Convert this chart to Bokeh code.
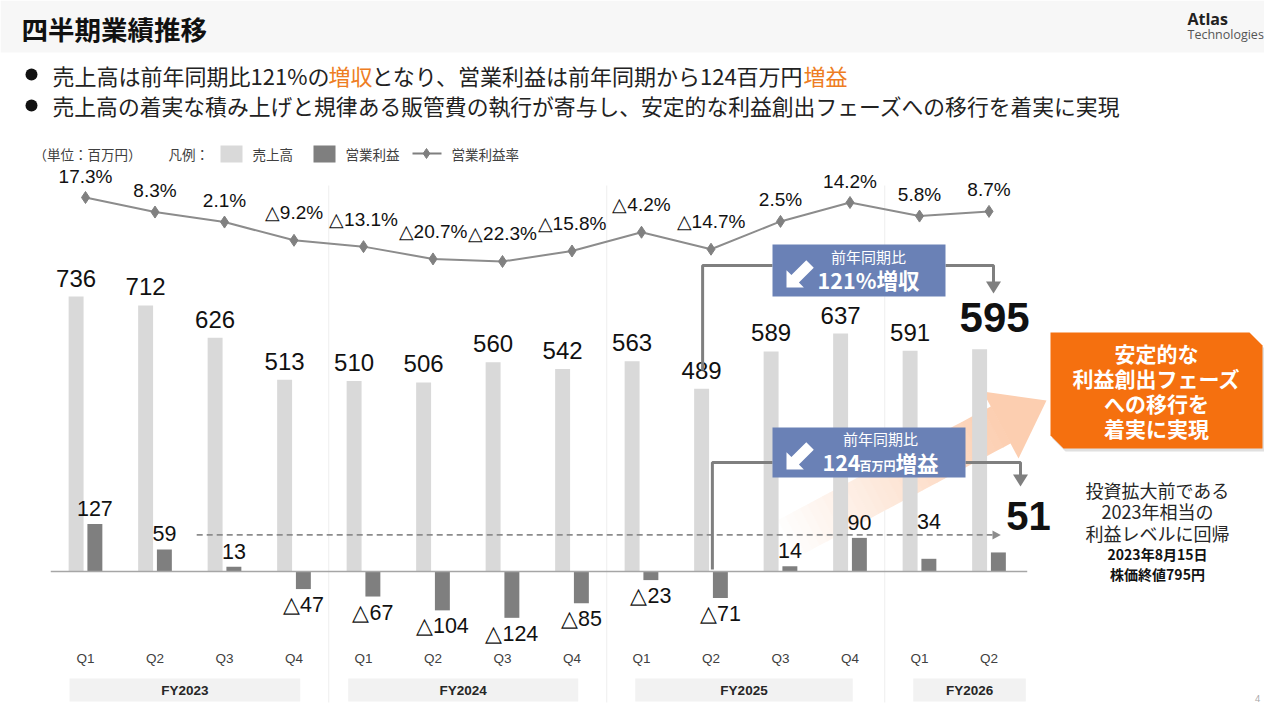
import numpy as np
from bokeh.plotting import figure
from bokeh.models import Range1d
from bokeh.core.properties import value
from bokeh.embed import file_html
from bokeh.resources import INLINE

# ---------------- data ----------------
quarters = ["Q1", "Q2", "Q3", "Q4", "Q1", "Q2", "Q3", "Q4", "Q1", "Q2", "Q3", "Q4", "Q1", "Q2"]
fiscal_years = ["FY2023", "FY2024", "FY2025", "FY2026"]
fy_quarter_counts = [4, 4, 4, 2]
sales = [736, 712, 626, 513, 510, 506, 560, 542, 563, 489, 589, 637, 591, 595]
op_income = [127, 59, 13, -47, -67, -104, -124, -85, -23, -71, 14, 90, 34, 51]
op_margin = [17.3, 8.3, 2.1, -9.2, -13.1, -20.7, -22.3, -15.8, -4.2, -14.7, 2.5, 14.2, 5.8, 8.7]
level_2023 = 98

title_text = "四半期業績推移"
bullet1_runs = [("売上高は前年同期比121%の", False), ("増収", True),
                ("となり、営業利益は前年同期から124百万円", False), ("増益", True)]
bullet2_text = "売上高の着実な積み上げと規律ある販管費の執行が寄与し、安定的な利益創出フェーズへの移行を着実に実現"
legend_unit = "（単位：百万円）"
legend_title = "凡例："
legend_names = ["売上高", "営業利益", "営業利益率"]
callout_sales = ("前年同期比", "121%増収")
callout_op = ("前年同期比", "124", "百万円", "増益")
orange_lines = ["安定的な", "利益創出フェーズ", "への移行を", "着実に実現"]
note_lines = ["投資拡大前である", "2023年相当の", "利益レベルに回帰"]
note_bold_lines = ["2023年8月15日", "株価終値795円"]

# ---------------- layout ----------------
W, H = 1264, 704
Q0_PX, Q_STEP = 85.0, 69.5
V0_PX, V_PER = 571.0, 0.3736
P_A, P_B = 224.96, 1.616
BAR_W = 0.215
OFF = 0.135

JP = value("Noto Sans CJK JP")
NUM = value("Liberation Sans")

LIGHT = "#d9d9d9"
DARK = "#7f7f7f"
ORANGE_TXT = "#ee7d22"
BLUE = "#6a81b6"
ORANGE_BOX = "#f5700f"

p = figure(width=W, height=H, x_range=Range1d(0, W), y_range=Range1d(H, 0),
           output_backend="svg", toolbar_location=None,
           x_axis_type=None, y_axis_type=None, min_border=0)
p.outline_line_color = None
p.background_fill_color = "white"
p.border_fill_color = "white"
for g in p.grid:
    g.visible = False

p.extra_x_ranges = {"q": Range1d((0 - Q0_PX) / Q_STEP, (W - Q0_PX) / Q_STEP)}
p.extra_y_ranges = {"v": Range1d((V0_PX - H) / V_PER, V0_PX / V_PER),
                    "pct": Range1d((P_A - H) / P_B, P_A / P_B)}

def vpx(px):
    return px / V_PER

def ppx(px):
    return px / P_B

def txt(x, y, s, size, color="#222222", bold=False, align="left", baseline="middle",
        font=JP, xr="default", yr="default"):
    p.text(x=[x], y=[y], text=[s], text_font=font, text_font_size=f"{size}px",
           text_font_style="bold" if bold else "normal", text_color=color,
           text_align=align, text_baseline=baseline, x_range_name=xr, y_range_name=yr)

n = len(sales)
idx = np.arange(n)

# ---------------- header ----------------
p.quad(left=0, right=W, top=0, bottom=52, fill_color="#f7f7f7", line_color=None)
txt(21, 28, title_text, 26.5, color="#111111", bold=True)
txt(1187, 18, "Atlas", 16, color="#222222", bold=True, font=value("Open Sans"))
txt(1187, 34, "Technologies", 12.5, color="#555555", font=value("Open Sans"))
txt(1257, 698, "4", 9, color="#a6a6a6", align="center", font=value("Open Sans"))

# bullets
bx = [52, 328, 371, 803]
for (s, hi), x in zip(bullet1_runs, bx):
    txt(x, 74, s, 22, color=ORANGE_TXT if hi else "#222222")
txt(52, 105, bullet2_text, 21.8, color="#222222")
p.scatter(x=[31, 31], y=[74, 105], marker="circle", size=12, fill_color="#111111", line_color=None)

# legend
txt(33, 153, legend_unit, 13.5, color="#404040")
txt(168, 153, legend_title, 13.5, color="#404040")
p.quad(left=220, right=242, top=145, bottom=162, fill_color=LIGHT, line_color=None)
txt(252, 153, legend_names[0], 13.5, color="#404040")
p.quad(left=313, right=335, top=145, bottom=162, fill_color=DARK, line_color=None)
txt(345, 153, legend_names[1], 13.5, color="#404040")
p.line(x=[412, 441], y=[153, 153], line_color=DARK, line_width=2)
p.scatter(x=[426], y=[153], marker="diamond", size=10, fill_color=DARK, line_color=DARK)
txt(451, 153, legend_names[2], 13.5, color="#404040")

# ---------------- chart ----------------
# fiscal-year separators
sep = np.cumsum(fy_quarter_counts)[:-1] - 0.5
p.multi_line(xs=[[s, s] for s in sep], ys=[[185, 702] for _ in sep], line_color="#eeeeee",
             line_width=1, x_range_name="q")

# gradient arrow (behind bars)
S = np.array([780.0, 542.0]); T = np.array([1046.0, 400.0])
D = T - S; L = np.hypot(*D); u = D / L; nrm = np.array([-u[1], u[0]])
hw, hh, hl = 21.0, 38.0, 52.0
shaft_len = L - hl
N = 30
c0 = np.array([255, 255, 255]); c1 = np.array([252, 206, 176])
xs, ys, cols = [], [], []
for i in range(N):
    t0, t1 = i / N, (i + 1) / N
    a0 = S + u * shaft_len * t0; a1 = S + u * shaft_len * (t1 + 0.002)
    pts = [a0 + nrm * hw, a1 + nrm * hw, a1 - nrm * hw, a0 - nrm * hw]
    xs.append([q[0] for q in pts]); ys.append([q[1] for q in pts])
    c = c0 + (c1 - c0) * t0
    cols.append("#%02x%02x%02x" % tuple(int(v) for v in c))
hb = S + u * shaft_len
xs.append([hb[0] + nrm[0] * hh, T[0], hb[0] - nrm[0] * hh])
ys.append([hb[1] + nrm[1] * hh, T[1], hb[1] - nrm[1] * hh])
cols.append("#%02x%02x%02x" % tuple(int(v) for v in c1))
p.patches(xs=xs, ys=ys, fill_color=cols, line_color=None)

# bars
p.vbar(x=idx - OFF, top=sales, bottom=0, width=BAR_W, fill_color=LIGHT, line_color=None,
       x_range_name="q", y_range_name="v")
p.vbar(x=idx + OFF, top=op_income, bottom=0, width=BAR_W, fill_color=DARK, line_color=None,
       x_range_name="q", y_range_name="v")

# baseline
p.line(x=[-0.5, n - 0.5 + 0.05], y=[0, 0], line_color="#a6a6a6", line_width=1.5,
       x_range_name="q", y_range_name="v")

# 2023 level dashed line with arrow
p.line(x=[1.6, n - 1 + 0.05], y=[level_2023, level_2023], line_color="#8c8c8c",
       line_width=1.6, line_dash="6 4", x_range_name="q", y_range_name="v")
ax_end = n - 1 + 0.17
p.patch(x=[ax_end - 0.12, ax_end, ax_end - 0.12], y=[level_2023 + vpx(4.5), level_2023, level_2023 - vpx(4.5)],
        fill_color="#8c8c8c", line_color=None, x_range_name="q", y_range_name="v")

# margin line
p.line(x=idx, y=op_margin, line_color="#8c8c8c", line_width=2, x_range_name="q", y_range_name="pct")
p.scatter(x=idx, y=op_margin, marker="diamond", size=12, fill_color="#808080", line_color="#808080",
          x_range_name="q", y_range_name="pct")

def fmt_pct(v):
    return ("△%.1f%%" % abs(v)) if v < 0 else ("%.1f%%" % v)

def fmt_num(v):
    return ("△%d" % abs(v)) if v < 0 else ("%d" % v)

p.text(x=idx, y=[m + ppx(11 if m >= 0 else 17) for m in op_margin], text=[fmt_pct(m) for m in op_margin],
       text_font=NUM, text_font_size="19px", text_color="#111111", text_align="center",
       text_baseline="bottom", x_range_name="q", y_range_name="pct")

# sales labels
last = n - 1
p.text(x=idx[:last] - OFF, y=[s + vpx(10) for s in sales[:last]], text=[fmt_num(s) for s in sales[:last]],
       text_font=NUM, text_font_size="24px", text_color="#111111", text_align="center",
       text_baseline="bottom", x_range_name="q", y_range_name="v")
txt(last + 0.08, sales[last] + vpx(17), fmt_num(sales[last]), 42, color="#111111", bold=True,
    align="center", baseline="bottom", font=NUM, xr="q", yr="v")

# operating income labels
nudge = {12: 22}
pos_i = [i for i in range(last) if op_income[i] >= 0]
neg_i = [i for i in range(last) if op_income[i] < 0]
p.text(x=[i + OFF for i in pos_i], y=[op_income[i] + vpx(8 + nudge.get(i, 0)) for i in pos_i],
       text=[fmt_num(op_income[i]) for i in pos_i], text_font=NUM, text_font_size="21.5px",
       text_color="#111111", text_align="center", text_baseline="bottom", x_range_name="q", y_range_name="v")
p.text(x=[i + OFF for i in neg_i], y=[op_income[i] - vpx(4) for i in neg_i],
       text=[fmt_num(op_income[i]) for i in neg_i], text_font=NUM, text_font_size="21.5px",
       text_color="#111111", text_align="center", text_baseline="top", x_range_name="q", y_range_name="v")
txt(last + 0.57, op_income[last] + vpx(22), fmt_num(op_income[last]), 40, color="#111111", bold=True,
    align="center", baseline="bottom", font=NUM, xr="q", yr="v")

# quarter and fiscal year labels
p.text(x=idx, y=[658] * n, text=quarters, text_font=NUM, text_font_size="13.5px", text_color="#404040",
       text_align="center", text_baseline="middle", x_range_name="q")
fy_pads = [(-0.23, 0.09), (-0.22, 0.09), (-0.09, 0.04), (-0.09, 0.53)]
start = 0
for fy, cnt, (pl, pr) in zip(fiscal_years, fy_quarter_counts, fy_pads):
    l, r = start + pl, start + cnt - 1 + pr
    p.quad(left=l, right=r, top=678, bottom=701, fill_color="#f2f2f2", line_color=None, x_range_name="q")
    txt((l + r) / 2, 690, fy, 13.5, color="#262626", bold=True, align="center", font=NUM, xr="q")
    start += cnt

# ---------------- callouts ----------------
CONN = "#7f7f7f"
def icon(x0, y0, s):
    pts = [(0, 1), (0, 0.38), (0.176, 0.556), (0.706, 0.026), (0.974, 0.294), (0.444, 0.824), (0.62, 1.0)]
    p.patch(x=[x0 + a * s for a, b in pts], y=[y0 + b * s for a, b in pts], fill_color="white", line_color=None)

# sales callout
i489 = 9
x_left = Q0_PX + (i489 - OFF) * Q_STEP + 1
p.line(x=[x_left, x_left, 772], y=[370, 265, 265], line_color=CONN, line_width=3)
p.line(x=[945, 993, 993], y=[265, 265, 283], line_color=CONN, line_width=3)
p.patch(x=[985.5, 1000.5, 993], y=[281, 281, 293], fill_color=CONN, line_color=None)
p.quad(left=772, right=945, top=244, bottom=296, fill_color=BLUE, line_color=None)
icon(786, 259, 28)
txt(868, 256, callout_sales[0], 15, color="white", align="center")
txt(868, 279, callout_sales[1], 21.5, color="white", bold=True, align="center")

# operating income callout
x_left2 = Q0_PX + (i489 + OFF) * Q_STEP - 8
p.line(x=[x_left2, x_left2, 772], y=[569, 462, 462], line_color=CONN, line_width=3)
p.line(x=[965, 1020, 1020], y=[462, 462, 476], line_color=CONN, line_width=3)
p.patch(x=[1012.5, 1027.5, 1020], y=[474, 474, 486], fill_color=CONN, line_color=None)
p.quad(left=772, right=965, top=427, bottom=477, fill_color=BLUE, line_color=None)
icon(786, 441, 28)
txt(880, 438, callout_op[0], 15, color="white", align="center")
txt(822, 462, callout_op[1], 21.5, color="white", bold=True, align="left")
txt(859, 465, callout_op[2], 12, color="white", bold=True, align="left")
txt(895, 462, callout_op[3], 21.5, color="white", bold=True, align="left")

# orange box
ox = [1050, 1249, 1262, 1262, 1063, 1050]
oy = [332, 332, 345, 448, 448, 435]
p.patch(x=[v + 2 for v in ox], y=[v + 3 for v in oy], fill_color="#cccccc", fill_alpha=0.6, line_color=None)
p.patch(x=ox, y=oy, fill_color=ORANGE_BOX, line_color=None)
for k, s in enumerate(orange_lines):
    txt(1156, 352 + k * 25.3, s, 21, color="white", bold=True, align="center")

for k, s in enumerate(note_lines):
    txt(1157, 489 + k * 21.5, s, 18, color="#262626", align="center")
for k, s in enumerate(note_bold_lines):
    txt(1157, 553 + k * 20, s, 14, color="#111111", bold=True, align="center")

open("out.html", "w").write(file_html(p, INLINE))
